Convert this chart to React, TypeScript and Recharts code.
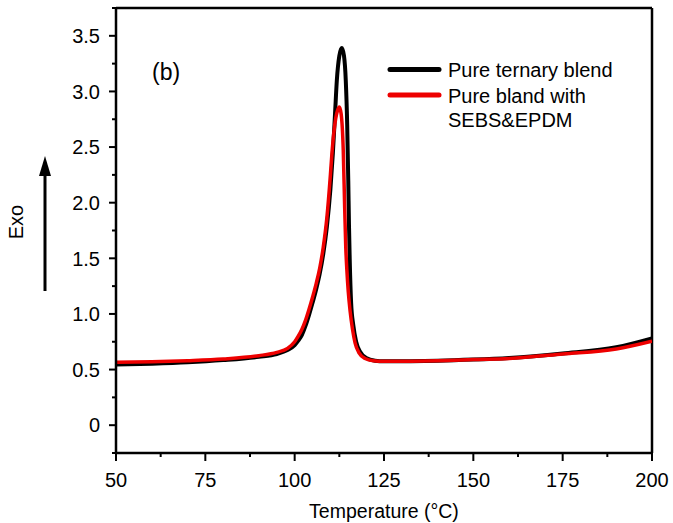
import React from "react";
import { LineChart, Line, XAxis, YAxis, ReferenceLine } from "recharts";

// ---- data ----
const blackT = [50, 60, 70, 80, 90, 95, 98, 100, 101, 102, 103, 104, 105, 106, 107, 108, 109, 110, 110.7, 111.3, 111.8, 112.5, 113.2, 113.8, 114.3, 114.7, 115.0, 115.2, 115.4, 115.8, 116.4, 117.2, 118.3, 120, 122.5, 125, 140, 150, 160, 175, 190, 200];
const blackV = [0.545, 0.553, 0.565, 0.585, 0.615, 0.64, 0.675, 0.72, 0.76, 0.81, 0.89, 0.99, 1.1, 1.22, 1.36, 1.54, 1.78, 2.12, 2.45, 2.8, 3.1, 3.32, 3.39, 3.32, 3.1, 2.7, 2.2, 1.8, 1.5, 1.1, 0.9, 0.75, 0.66, 0.605, 0.58, 0.575, 0.58, 0.59, 0.605, 0.645, 0.7, 0.78];

const redT = [50, 60, 70, 80, 90, 95, 98, 100, 101, 102, 103, 104, 105, 106, 107, 108, 109, 110, 110.4, 111, 111.5, 112, 112.5, 113, 113.6, 114.0, 114.3, 114.6, 115.0, 115.5, 116.2, 116.9, 118, 119.7, 122, 125, 140, 150, 160, 175, 190, 200];
const redV = [0.565, 0.57, 0.58, 0.595, 0.625, 0.655, 0.69, 0.75, 0.8, 0.86, 0.94, 1.04, 1.15, 1.27, 1.41, 1.6, 1.86, 2.25, 2.43, 2.64, 2.76, 2.83, 2.86, 2.8, 2.47, 1.95, 1.6, 1.4, 1.2, 1.03, 0.86, 0.74, 0.65, 0.6, 0.58, 0.575, 0.58, 0.59, 0.6, 0.64, 0.685, 0.755];

const seriesNames = ["Pure ternary blend", "Pure bland with SEBS&EPDM"];
const seriesColors = ["#000000", "#ee0000"];

const xTicks = [50, 62.5, 75, 87.5, 100, 112.5, 125, 137.5, 150, 162.5, 175, 187.5, 200];
const xMajor = [50, 75, 100, 125, 150, 175, 200];
const yTicks = [-0.25, 0, 0.25, 0.5, 0.75, 1, 1.25, 1.5, 1.75, 2, 2.25, 2.5, 2.75, 3, 3.25, 3.5, 3.75];
const yMajor = [0, 0.5, 1, 1.5, 2, 2.5, 3, 3.5];
const xDomain = [50, 200];
const yDomain = [-0.25, 3.75];

const blackData = blackT.map((t, i) => ({ t, v: blackV[i] }));
const redData = redT.map((t, i) => ({ t, v: redV[i] }));

const FONT = "'Liberation Sans', Arial, Helvetica, sans-serif";

const fmtY = (v: number) => (v === 0 ? "0" : v.toFixed(1));

const YTick = (props: any) => {
  const { x, y, payload } = props;
  const v = payload.value as number;
  const major = yMajor.includes(v);
  return (
    <g>
      <line x1={x} x2={x - (major ? 7 : 4)} y1={y} y2={y} stroke="#000" strokeWidth={2} />
      {major && (
        <text x={x - 16} y={y} dy="0.36em" textAnchor="end" fontSize={20} fontFamily={FONT} fill="#000">
          {fmtY(v)}
        </text>
      )}
    </g>
  );
};

const XTick = (props: any) => {
  const { x, y, payload } = props;
  const v = payload.value as number;
  const major = xMajor.includes(v);
  return (
    <g>
      <line x1={x} x2={x} y1={y} y2={y + (major ? 8 : 4)} stroke="#000" strokeWidth={2} />
      {major && (
        <text x={x} y={y + 34} textAnchor="middle" fontSize={20} fontFamily={FONT} fill="#000">
          {v}
        </text>
      )}
    </g>
  );
};

export default function App() {
  const W = 673;
  const H = 523;
  return (
    <div style={{ position: "absolute", left: 0, top: 0, width: W, height: H, background: "#fff" }}>
      <LineChart width={W} height={H} margin={{ top: 8, right: 21, bottom: 0, left: 0 }}>
        <XAxis
          xAxisId="b"
          type="number"
          dataKey="t"
          domain={xDomain}
          ticks={xTicks}
          interval={0}
          allowDataOverflow
          height={70}
          tickSize={0}
          tickMargin={0}
          tick={<XTick />}
          axisLine={{ stroke: "#000", strokeWidth: 2.5 }}
        />
        <YAxis
          yAxisId="l"
          type="number"
          domain={yDomain}
          ticks={yTicks}
          interval={0}
          allowDataOverflow
          width={116}
          tickSize={0}
          tickMargin={0}
          tick={<YTick />}
          axisLine={{ stroke: "#000", strokeWidth: 2.5 }}
        />
        <ReferenceLine xAxisId="b" yAxisId="l" y={yDomain[1]} stroke="#000" strokeWidth={2.5} />
        <ReferenceLine xAxisId="b" yAxisId="l" x={xDomain[1]} stroke="#000" strokeWidth={2.5} />
        <Line
          xAxisId="b"
          yAxisId="l"
          data={blackData}
          dataKey="v"
          type="monotone"
          stroke={seriesColors[0]}
          strokeWidth={4}
          dot={false}
          isAnimationActive={false}
        />
        <Line
          xAxisId="b"
          yAxisId="l"
          data={redData}
          dataKey="v"
          type="monotone"
          stroke={seriesColors[1]}
          strokeWidth={3.5}
          dot={false}
          isAnimationActive={false}
        />
      </LineChart>
      <svg
        width={W}
        height={H}
        style={{ position: "absolute", left: 0, top: 0, pointerEvents: "none" }}
        fontFamily={FONT}
      >
        <text x={152} y={80} fontSize={23} fill="#000">(b)</text>
        {/* legend */}
        <line x1={390} x2={439} y1={69.5} y2={69.5} stroke={seriesColors[0]} strokeWidth={5} strokeLinecap="round" />
        <text x={448} y={77.3} fontSize={20} fill="#000">{seriesNames[0]}</text>
        <line x1={390} x2={439} y1={95} y2={95} stroke={seriesColors[1]} strokeWidth={5} strokeLinecap="round" />
        <text x={448} y={103.3} fontSize={20} fill="#000">Pure bland with</text>
        <text x={448} y={127.3} fontSize={20} fill="#000">SEBS&amp;EPDM</text>
        {/* axis titles */}
        <text x={384} y={518} fontSize={19.5} textAnchor="middle" fill="#000">Temperature (°C)</text>
        <text
          x={15.5}
          y={222}
          fontSize={20}
          textAnchor="middle"
          dominantBaseline="central"
          transform="rotate(-90 15.5 222)"
          fill="#000"
        >
          Exo
        </text>
        <line x1={45} x2={45} y1={291} y2={172} stroke="#000" strokeWidth={3} />
        <polygon points="45,156 39,176 51,176" fill="#000" />
      </svg>
    </div>
  );
}
